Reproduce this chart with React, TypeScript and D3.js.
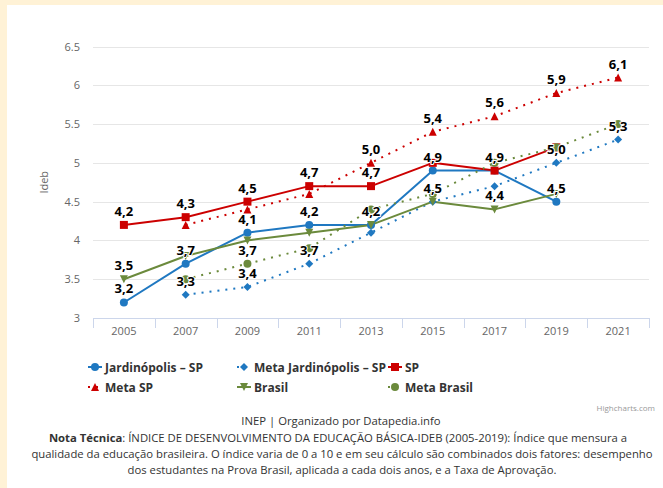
import * as d3 from "d3";
import React, { useEffect, useRef } from "react";

const years = ["2005", "2007", "2009", "2011", "2013", "2015", "2017", "2019", "2021"];
const yTicks = [3, 3.5, 4, 4.5, 5, 5.5, 6, 6.5];

// null = no value that year
const jardinopolis = [3.2, 3.7, 4.1, 4.2, 4.2, 4.9, 4.9, 4.5, null];
const metaJardinopolis = [null, 3.3, 3.4, 3.7, 4.1, 4.5, 4.7, 5.0, 5.3];
const sp = [4.2, 4.3, 4.5, 4.7, 4.7, 5.0, 4.9, 5.2, null];
const metaSp = [null, 4.2, 4.4, 4.6, 5.0, 5.4, 5.6, 5.9, 6.1];
const brasil = [3.5, 3.8, 4.0, 4.1, 4.2, 4.5, 4.4, 4.6, null];
const metaBrasil = [null, 3.5, 3.7, 3.9, 4.4, 4.6, 5.0, 5.2, 5.5];

type Sym = "circle" | "diamond" | "square" | "triangle" | "triangle-down";
type Ser = { name: string; values: (number | null)[]; color: string; dotted: boolean; symbol: Sym };

const seriesList: Ser[] = [
  { name: "Jardinópolis – SP", values: jardinopolis, color: "#1f78c1", dotted: false, symbol: "circle" },
  { name: "Meta Jardinópolis – SP", values: metaJardinopolis, color: "#1f78c1", dotted: true, symbol: "diamond" },
  { name: "SP", values: sp, color: "#cc0000", dotted: false, symbol: "square" },
  { name: "Meta SP", values: metaSp, color: "#cc0000", dotted: true, symbol: "triangle" },
  { name: "Brasil", values: brasil, color: "#6b8a3c", dotted: false, symbol: "triangle-down" },
  { name: "Meta Brasil", values: metaBrasil, color: "#6b8a3c", dotted: true, symbol: "circle" },
];

const font = "'Open Sans', 'Noto Sans', sans-serif";

function symbolPath(sym: Sym, cx: number, cy: number) {
  if (sym === "circle") return `M${cx - 4},${cy}a4,4 0 1,0 8,0a4,4 0 1,0 -8,0Z`;
  if (sym === "square") return `M${cx - 4},${cy - 4}h8v8h-8Z`;
  if (sym === "diamond") return `M${cx},${cy - 4}L${cx + 4},${cy}L${cx},${cy + 4}L${cx - 4},${cy}Z`;
  if (sym === "triangle") return `M${cx},${cy - 4}L${cx + 4},${cy + 4}L${cx - 4},${cy + 4}Z`;
  return `M${cx - 4},${cy - 4}L${cx + 4},${cy - 4}L${cx},${cy + 4}Z`;
}

export default function App() {
  const svgRef = useRef<SVGSVGElement | null>(null);

  useEffect(() => {
    const svg = d3.select(svgRef.current);
    svg.selectAll("*").remove();
    const W = 663, H = 488;

    svg.append("rect").attr("width", W).attr("height", H).attr("fill", "#fff2d6");
    svg.append("rect").attr("x", 7).attr("y", 5).attr("width", W - 7).attr("height", H - 5).attr("fill", "#ffffff");

    const x = d3.scaleBand<string>().domain(years).range([93, 649]);
    const y = d3.scaleLinear().domain([3, 6.5]).range([318, 46.5]);
    const cx = (i: number) => x(years[i])! + x.bandwidth() / 2;

    // grid
    svg.append("g").selectAll("line").data(yTicks).join("line")
      .attr("x1", 93).attr("x2", 649)
      .attr("y1", d => Math.round(y(d)) + 0.5).attr("y2", d => Math.round(y(d)) + 0.5)
      .attr("stroke", d => d === 3 ? "#ccd6eb" : "#e6e6e6").attr("stroke-width", 1);
    svg.append("g").selectAll("text").data(yTicks).join("text")
      .attr("x", 80).attr("y", d => y(d) + 4).attr("text-anchor", "end")
      .attr("font-family", font).attr("font-size", 11).attr("fill", "#666")
      .text(d => String(d));
    svg.append("text").attr("transform", `translate(48,${y(4.75)}) rotate(-90)`)
      .attr("text-anchor", "middle").attr("font-family", font).attr("font-size", 11).attr("fill", "#666")
      .text("Ideb");

    // x axis
    const bounds = years.map(yr => x(yr)!).concat([649]);
    svg.append("g").selectAll("line").data(bounds).join("line")
      .attr("x1", d => Math.round(d) + 0.5).attr("x2", d => Math.round(d) + 0.5)
      .attr("y1", 318).attr("y2", 328).attr("stroke", "#ccd6eb");
    svg.append("g").selectAll("text").data(years).join("text")
      .attr("x", d => x(d)! + x.bandwidth() / 2).attr("y", 335).attr("text-anchor", "middle")
      .attr("font-family", font).attr("font-size", 11).attr("fill", "#666").text(d => d);

    // lines
    const line = d3.line<number | null>()
      .defined(d => d !== null)
      .x((_, i) => cx(i)).y(d => y(d as number));
    const plot = svg.append("g");
    seriesList.forEach(s => {
      plot.append("path").attr("d", line(s.values)!)
        .attr("fill", "none").attr("stroke", s.color).attr("stroke-width", 2)
        .attr("stroke-dasharray", s.dotted ? "2,6" : null)
        .attr("stroke-linejoin", "round");
    });
    seriesList.forEach(s => {
      s.values.forEach((v, i) => {
        if (v === null) return;
        plot.append("path").attr("d", symbolPath(s.symbol, cx(i), y(v))).attr("fill", s.color);
      });
    });

    // data labels, hidden on overlap (earlier series win)
    const placed: { x0: number; x1: number; y0: number; y1: number }[] = [];
    const lab = svg.append("g");
    seriesList.forEach(s => {
      s.values.forEach((v, i) => {
        if (v === null) return;
        const lx = cx(i), ly = y(v) - 14;
        const box = { x0: lx - 14, x1: lx + 14, y0: ly - 8.5, y1: ly + 8.5 };
        if (placed.some(b => b.x0 < box.x1 && box.x0 < b.x1 && b.y0 < box.y1 && box.y0 < b.y1)) return;
        placed.push(box);
        lab.append("text").attr("x", lx).attr("y", ly + 5).attr("text-anchor", "middle")
          .attr("font-family", font).attr("font-size", 13).attr("font-weight", "bold")
          .attr("fill", "#000").attr("stroke", "#fff").attr("stroke-width", 2)
          .attr("stroke-linejoin", "round").attr("paint-order", "stroke")
          .text(v.toFixed(1).replace(".", ","));
      });
    });

    // legend
    const legX = [88, 237, 388];
    const legY = [367, 387];
    seriesList.forEach((s, i) => {
      const gx = legX[i % 3], gy = legY[Math.floor(i / 3)];
      const g = svg.append("g");
      g.append("line").attr("x1", gx).attr("x2", gx + 14).attr("y1", gy).attr("y2", gy)
        .attr("stroke", s.color).attr("stroke-width", 2)
        .attr("stroke-dasharray", s.dotted ? "2,6" : null);
      g.append("path").attr("d", symbolPath(s.symbol, gx + 7, gy)).attr("fill", s.color);
      g.append("text").attr("x", gx + 17).attr("y", gy + 5)
        .attr("font-family", font).attr("font-size", 12).attr("font-weight", "bold").attr("fill", "#333")
        .text(s.name);
    });

    svg.append("text").attr("x", 655).attr("y", 411).attr("text-anchor", "end")
      .attr("font-family", font).attr("font-size", 8).attr("fill", "#999").text("Highcharts.com");

    // footer
    const foot = svg.append("g").attr("font-family", font).attr("font-size", 11.3).attr("fill", "#333").attr("text-anchor", "middle");
    foot.append("text").attr("x", 341).attr("y", 425).text("INEP | Organizado por Datapedia.info");
    const l1 = foot.append("text").attr("x", 338).attr("y", 442);
    l1.append("tspan").attr("font-weight", "bold").text("Nota Técnica");
    l1.append("tspan").text(": ÍNDICE DE DESENVOLVIMENTO DA EDUCAÇÃO BÁSICA-IDEB (2005-2019): Índice que mensura a");
    foot.append("text").attr("x", 342).attr("y", 458)
      .text("qualidade da educação brasileira. O índice varia de 0 a 10 e em seu cálculo são combinados dois fatores: desempenho");
    foot.append("text").attr("x", 342).attr("y", 474)
      .text("dos estudantes na Prova Brasil, aplicada a cada dois anos, e a Taxa de Aprovação.");
  }, []);

  return (
    <div style={{ position: "absolute", left: 0, top: 0 }}>
      <svg ref={svgRef} width={663} height={488} style={{ display: "block" }} />
    </div>
  );
}
